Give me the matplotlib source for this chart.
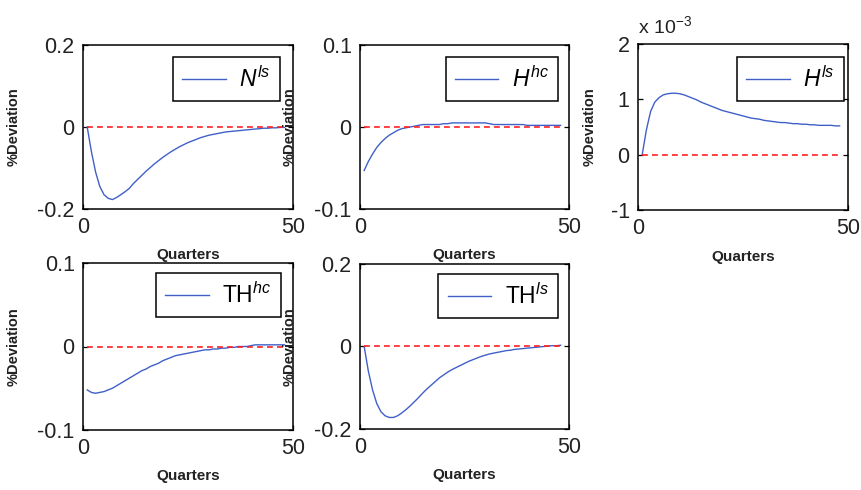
import matplotlib
matplotlib.use("Agg")
import matplotlib.pyplot as plt
import numpy as np

plt.rcParams['font.family'] = ['Liberation Sans', 'DejaVu Sans']
plt.rcParams['mathtext.fontset'] = 'custom'
plt.rcParams['mathtext.rm'] = 'Liberation Sans'
plt.rcParams['mathtext.it'] = 'Liberation Sans:italic'
plt.rcParams['mathtext.bf'] = 'Liberation Sans:bold'

# ---------------- data ----------------
quarters = list(range(1, 49))

n_ls = [0.0, -0.06, -0.11, -0.145, -0.165, -0.174, -0.177, -0.172, -0.165, -0.158,
        -0.150, -0.138, -0.128, -0.118, -0.108, -0.099, -0.090, -0.082, -0.074, -0.067,
        -0.060, -0.054, -0.048, -0.043, -0.038, -0.034, -0.030, -0.026, -0.023, -0.020,
        -0.018, -0.016, -0.014, -0.012, -0.011, -0.010, -0.009, -0.008, -0.007, -0.006,
        -0.005, -0.004, -0.003, -0.003, -0.002, -0.002, -0.001, -0.001]

h_hc = [-0.053, -0.042, -0.033, -0.025, -0.019, -0.014, -0.010, -0.007, -0.004, -0.002,
        -0.001, 0.0, 0.001, 0.002, 0.003, 0.003, 0.003, 0.003, 0.003, 0.004,
        0.004, 0.005, 0.005, 0.005, 0.005, 0.005, 0.005, 0.005, 0.005, 0.005,
        0.004, 0.003, 0.003, 0.003, 0.003, 0.003, 0.003, 0.003, 0.003, 0.002,
        0.002, 0.002, 0.002, 0.002, 0.002, 0.002, 0.002, 0.002]

h_ls_x1e3 = [0.0, 0.45, 0.78, 0.95, 1.03, 1.08, 1.10, 1.11, 1.11, 1.10,
             1.08, 1.05, 1.02, 0.99, 0.95, 0.92, 0.89, 0.86, 0.83, 0.80,
             0.78, 0.76, 0.74, 0.72, 0.70, 0.68, 0.66, 0.65, 0.64, 0.62,
             0.61, 0.60, 0.59, 0.58, 0.58, 0.57, 0.56, 0.56, 0.55, 0.55,
             0.54, 0.54, 0.53, 0.53, 0.53, 0.53, 0.52, 0.52]

th_hc = [-0.052, -0.055, -0.056, -0.055, -0.054, -0.052, -0.050, -0.047, -0.044, -0.041,
         -0.038, -0.035, -0.032, -0.029, -0.027, -0.024, -0.022, -0.020, -0.017, -0.015,
         -0.013, -0.011, -0.010, -0.009, -0.008, -0.007, -0.006, -0.005, -0.004, -0.004,
         -0.003, -0.003, -0.002, -0.002, -0.001, -0.001, 0.0, 0.0, 0.0, 0.001,
         0.002, 0.002, 0.002, 0.002, 0.002, 0.002, 0.002, 0.002]

th_ls = [0.0, -0.06, -0.105, -0.138, -0.158, -0.168, -0.172, -0.172, -0.168, -0.161,
         -0.153, -0.144, -0.134, -0.124, -0.113, -0.103, -0.094, -0.085, -0.076, -0.069,
         -0.062, -0.056, -0.051, -0.046, -0.041, -0.036, -0.032, -0.028, -0.024, -0.021,
         -0.018, -0.016, -0.014, -0.012, -0.010, -0.009, -0.007, -0.006, -0.005, -0.004,
         -0.003, -0.002, -0.001, 0.0, 0.001, 0.002, 0.002, 0.003]

series = [n_ls, h_hc, h_ls_x1e3, th_hc, th_ls]
labels = [r'$N^{ls}\;$', r'$H^{hc}\;$', r'$H^{ls}\;$', r'$\mathrm{TH}^{hc}\;$', r'$\mathrm{TH}^{ls}\;$']
ylims = [(-0.2, 0.2), (-0.1, 0.1), (-1, 2), (-0.1, 0.1), (-0.2, 0.2)]
yticks = [[-0.2, 0, 0.2], [-0.1, 0, 0.1], [-1, 0, 1, 2], [-0.1, 0, 0.1], [-0.2, 0, 0.2]]
yticklabels = [['-0.2', '0', '0.2'], ['-0.1', '0', '0.1'], ['-1', '0', '1', '2'],
               ['-0.1', '0', '0.1'], ['-0.2', '0', '0.2']]
xticks = [0, 50]

# ---------------- layout (pixels) ----------------
W, H = 862, 490
boxes = [(83, 45, 293, 209), (360, 45, 569, 209), (638, 44, 848, 210),
         (83, 263, 293, 430), (360, 264, 569, 429)]
leg_anchor = [(280, 57), (558, 57), (844, 57), (281, 273), (558, 274)]
ylab_x = [-0.295, -0.305, -0.195, -0.295, -0.305]
xlab_y = [-0.24, -0.24, -0.24, -0.235, -0.235]

fig = plt.figure(figsize=(W / 100, H / 100), dpi=100)
blue = '#4060c8'
red = '#ff2020'

for i, (l, t, r, b) in enumerate(boxes):
    ax = fig.add_axes([l / W, 1 - b / H, (r - l) / W, (b - t) / H])
    ax.plot(quarters, series[i], color=blue, lw=1.0, label=labels[i])
    ax.plot(quarters, [0] * len(quarters), color=red, lw=1.2, ls=(0, (3.5, 2.5)))
    ax.set_xlim(0, 50)
    ax.set_ylim(*ylims[i])
    ax.set_xticks(xticks)
    ax.set_xticklabels(['0', '50'])
    ax.set_yticks(yticks[i])
    ax.set_yticklabels(yticklabels[i])
    ax.tick_params(direction='in', length=3.5, width=0.9, top=True, right=True,
                   labelsize=15.5, pad=6, labelcolor='#222222')
    for s in ax.spines.values():
        s.set_linewidth(1.1)
    ax.set_xlabel('Quarters', fontsize=11, fontweight='bold', color='#222222')
    ax.set_ylabel('%Deviation', fontsize=10.5, fontweight='bold', color='#222222')
    ax.xaxis.set_label_coords(0.5, xlab_y[i])
    ax.yaxis.set_label_coords(ylab_x[i], 0.5)
    ax.xaxis.label.set_va('top')
    ax_w, ax_h = r - l, b - t
    ax_x = (leg_anchor[i][0] - l) / ax_w
    ax_y = (b - leg_anchor[i][1]) / ax_h
    leg = ax.legend(loc='upper right', bbox_to_anchor=(ax_x, ax_y), borderaxespad=0,
                    fontsize=16.5, handlelength=1.9, handletextpad=0.6, borderpad=0.4,
                    fancybox=False, framealpha=1, edgecolor='black')
    leg.get_frame().set_linewidth(1.1)
    if i == 2:
        ax.text(0.0, 1.066, r'x 10$^{-3}$', transform=ax.transAxes, fontsize=14,
                va='baseline', ha='left', color='#222222')

fig.savefig('out.png', dpi=100)
